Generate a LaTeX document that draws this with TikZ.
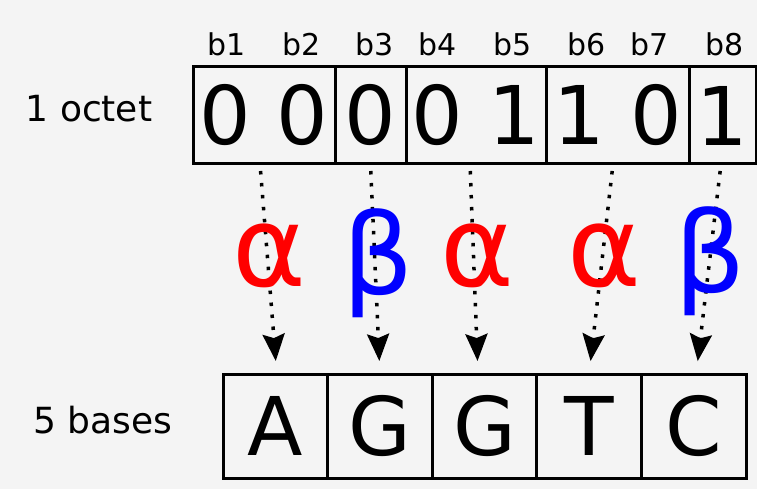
\documentclass[tikz,border=0pt]{standalone}
\usepackage{fontspec}
\setmainfont{DejaVu Sans}
\usetikzlibrary{arrows.meta,positioning}
\definecolor{bgcol}{RGB}{244,244,244}

\begin{document}
\begin{tikzpicture}[x=1pt,y=1pt,
  bitbox/.style={draw=black,line width=3pt,outer sep=0pt,inner sep=0pt,minimum height=97pt,font=\fontsize{81}{81}\selectfont},
  basebox/.style={draw=black,line width=3pt,outer sep=0pt,inner sep=0pt,minimum height=104pt,minimum width=104.6pt,font=\fontsize{81}{81}\selectfont},
  bitlbl/.style={anchor=base,font=\fontsize{30}{30}\selectfont},
  rowlbl/.style={anchor=base,font=\fontsize{36}{36}\selectfont},
  greek/.style={anchor=base,font=\fontsize{112}{112}\selectfont},
  flow/.style={line width=3.5pt,dash pattern=on 3.5pt off 8.5pt,shorten <=7pt,shorten >=13pt,
    -{Stealth[length=27pt,width=22pt,inset=4pt]}}]
\tikzstyle{every node}+=[inner sep=0pt]
\fill [bgcol] (0,0) rectangle (757,-489);
\useasboundingbox (0,0) rectangle (757,-489);
% row labels
\node [rowlbl] (octet) at (89,-122) {1 octet};
\node [rowlbl] (bases) at (103,-433) {5 bases};
% bit numbers
\node [bitlbl] (b1) at (227,-56) {b1};
\node [bitlbl] (b2) at (302,-56) {b2};
\node [bitlbl] (b3) at (375,-56) {b3};
\node [bitlbl] (b4) at (438,-56) {b4};
\node [bitlbl] (b5) at (513,-56) {b5};
\node [bitlbl] (b6) at (587,-56) {b6};
\node [bitlbl] (b7) at (650,-56) {b7};
\node [bitlbl] (b8) at (725,-56) {b8};
% the octet
\node [bitbox,minimum width=142pt] (o1) at (264,-115.5) {0 0};
\node [bitbox,minimum width=71pt,right=0pt of o1] (o2) {0};
\node [bitbox,minimum width=140pt,right=0pt of o2] (o3) {0 1};
\node [bitbox,minimum width=143pt,right=0pt of o3] (o4) {1 0};
\node [bitbox,minimum width=67pt,right=0pt of o4] (o5) {1};
% the bases
\node [basebox] (n1) at (275.3,-426) {A};
\node [basebox,right=0pt of n1] (n2) {G};
\node [basebox,right=0pt of n2] (n3) {G};
\node [basebox,right=0pt of n3] (n4) {T};
\node [basebox,right=0pt of n4] (n5) {C};
% coding
\draw [flow] ([xshift=-4pt]o1.south) -- ([xshift=1.5pt]n1.north);
\draw [flow] (o2.south) -- (n2.north);
\draw [flow] ([xshift=-6pt]o3.south) -- ([xshift=-6.5pt]n3.north);
\draw [flow] ([xshift=-4.5pt]o4.south) -- (n4.north);
\draw [flow] ([xshift=-1.5pt]o5.south) -- ([xshift=2.5pt]n5.north);
\node [greek,text=red] (g1) at (269,-286) {α};
\node [greek,text=blue] (g2) at (378,-294) {β};
\node [greek,text=red] (g3) at (477,-286) {α};
\node [greek,text=red] (g4) at (604,-286) {α};
\node [greek,text=blue] (g5) at (710,-292) {β};
\end{tikzpicture}
\end{document}
